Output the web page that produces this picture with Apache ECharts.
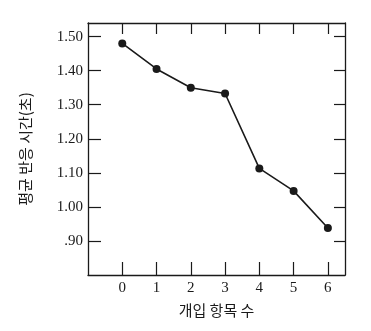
<!DOCTYPE html>
<html><head><meta charset="utf-8">
<script src="https://cdn.jsdelivr.net/npm/echarts@6/dist/echarts.min.js"></script>
<style>html,body{margin:0;padding:0;background:#fff}#c{width:371px;height:331px}</style>
</head><body><div id="c"></div>
<script>
const categories = [0, 1, 2, 3, 4, 5, 6];
const reactionTimes = [1.48, 1.405, 1.35, 1.333, 1.113, 1.047, 0.938];
const yTicks = [0.9, 1.0, 1.1, 1.2, 1.3, 1.4, 1.5];
const yTickLabels = ['.90', '1.00', '1.10', '1.20', '1.30', '1.40', '1.50'];
const xTitle = '개입 항목 수';
const yTitle = '평균 반응 시간(초)';

const serif = '"Liberation Serif", "DejaVu Serif", serif';
const kr = '"Noto Sans CJK KR", sans-serif';
const ink = '#1a1a1a';
const axisLine = { show: true, onZero: false, lineStyle: { color: ink, width: 1.3 } };

const chart = echarts.init(document.getElementById('c'));
chart.setOption({
  backgroundColor: '#fff',
  animation: false,
  grid: { left: 88, right: 26, top: 23, bottom: 56 },
  xAxis: [
    {
      type: 'value', min: -1, max: 6.5, interval: 1, position: 'bottom',
      axisLine,
      splitLine: { show: false },
      axisTick: { show: true, inside: true, length: 13, customValues: categories, lineStyle: { color: ink, width: 1.2 } },
      axisLabel: { customValues: categories, color: ink, fontFamily: serif, fontSize: 15, margin: 6 },
      name: xTitle, nameLocation: 'middle', nameGap: 28,
      nameTextStyle: { fontFamily: kr, fontSize: 15, color: ink }
    },
    {
      type: 'value', min: -1, max: 6.5, interval: 1, position: 'top',
      axisLine,
      splitLine: { show: false },
      axisTick: { show: true, inside: true, length: 11, customValues: categories, lineStyle: { color: ink, width: 1.2 } },
      axisLabel: { show: false }
    }
  ],
  yAxis: [
    {
      type: 'value', min: 0.8, max: 1.54, position: 'left',
      axisLine,
      splitLine: { show: false },
      axisTick: { show: true, inside: true, length: 13, customValues: yTicks, lineStyle: { color: ink, width: 1.2 } },
      axisLabel: {
        customValues: yTicks, color: ink, fontFamily: serif, fontSize: 15, margin: 5,
        formatter: v => yTickLabels[yTicks.findIndex(t => Math.abs(t - v) < 1e-6)]
      },
      name: yTitle, nameLocation: 'middle', nameGap: 55, nameRotate: 90,
      nameTextStyle: { fontFamily: kr, fontSize: 15, color: ink }
    },
    {
      type: 'value', min: 0.8, max: 1.54, position: 'right',
      axisLine,
      splitLine: { show: false },
      axisTick: { show: true, inside: true, length: 11, customValues: yTicks, lineStyle: { color: ink, width: 1.2 } },
      axisLabel: { show: false }
    }
  ],
  series: [{
    type: 'line',
    xAxisIndex: 0, yAxisIndex: 0,
    data: categories.map((c, i) => [c, reactionTimes[i]]),
    symbol: 'circle', symbolSize: 8,
    lineStyle: { color: ink, width: 1.6 },
    itemStyle: { color: ink }
  }]
});
</script></body></html>
